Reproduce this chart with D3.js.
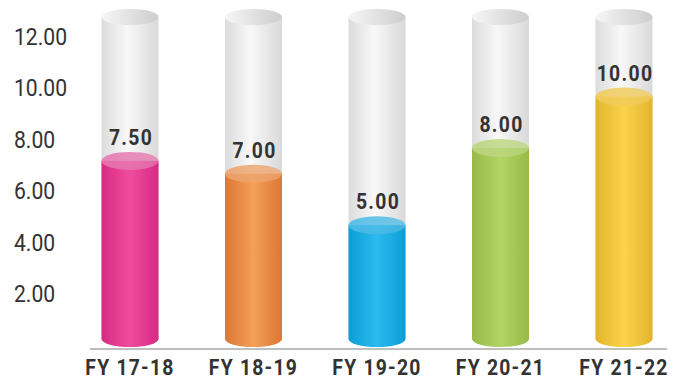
<!DOCTYPE html>
<html>
<head>
<meta charset="utf-8">
<script src="https://cdn.jsdelivr.net/npm/d3@7"></script>
<style>
  body { margin: 0; background: #fff; }
  svg { display: block; }
  .ylab { font-family: Roboto, "Liberation Sans", sans-serif; font-size: 24px; fill: #333; }
  .vlab { font-family: Roboto, "Liberation Sans", sans-serif; font-size: 22px; font-weight: bold; fill: #333; letter-spacing: 1.5px; }
  .xlab { font-family: Roboto, "Liberation Sans", sans-serif; font-size: 22px; font-weight: bold; fill: #333; letter-spacing: 1.4px; }
</style>
</head>
<body>
<svg width="679" height="380"></svg>
<script>
// donnees
var categories = ["FY 17-18", "FY 18-19", "FY 19-20", "FY 20-21", "FY 21-22"];
var values = [7.5, 7.0, 5.0, 8.0, 10.0];
var yTicks = [2, 4, 6, 8, 10, 12];
// couleurs : bord, centre, dessus
var darkCols = ["#d72a84", "#db7835", "#0a9dd5", "#97b948", "#e1b42d"];
var lightCols = ["#f04c9d", "#f59f58", "#2cbbef", "#b2d563", "#fdd34c"];
var topCols = ["#e678b0", "#eda56e", "#4dbbe6", "#bcd680", "#f0cc5c"];

var svg = d3.select("svg");
var defs = svg.append("defs");

var barW = 57;
var rx = barW / 2;
var ry = 8;
var tubeTop = 17;   // centre ellipse du haut du tube
var tubeBottom = 339; // centre ellipse du bas
var narrow = 0.88;  // police condensee

var x = d3.scalePoint().domain(categories).range([130, 624]);
var y = d3.scaleLinear().domain([0, 12]).range([345, 36]);

// degrades
function hGrad(id, stops) {
  var g = defs.append("linearGradient").attr("id", id)
    .attr("x1", "0%").attr("x2", "100%").attr("y1", "0%").attr("y2", "0%");
  stops.forEach(function(s) {
    g.append("stop").attr("offset", s[0]).attr("stop-color", s[1]).attr("stop-opacity", s[2] == null ? 1 : s[2]);
  });
}
hGrad("tubeBody", [["0%", "#dcdcdc"], ["45%", "#f8f8f8"], ["100%", "#d9d9d9"]]);
hGrad("tubeTop", [["0%", "#f6f6f6"], ["100%", "#cdcdcd"]]);
values.forEach(function(v, i) {
  hGrad("fill" + i, [["0%", darkCols[i]], ["50%", lightCols[i]], ["100%", darkCols[i]]]);
  hGrad("top" + i, [["0%", topCols[i], 0.9], ["100%", topCols[i], 0.75]]);
});

// ligne de base
svg.append("line")
  .attr("x1", 90).attr("x2", 667)
  .attr("y1", 349).attr("y2", 349)
  .style("stroke", "#a8a8a8")
  .style("stroke-width", 1.5);

// axe y (labels seulement)
svg.selectAll("text.ylab")
  .data(yTicks)
  .enter()
  .append("text")
  .attr("class", "ylab")
  .attr("transform", function(d) { return "translate(14," + y(d) + ") scale(" + narrow + ",1)"; })
  .attr("dy", "0.36em")
  .text(function(d) { return d3.format(".2f")(d); });

var cyl = svg.selectAll("g.cyl")
  .data(values)
  .enter()
  .append("g")
  .attr("class", "cyl")
  .attr("transform", function(d, i) { return "translate(" + x(categories[i]) + ",0)"; });

// tube en verre
cyl.append("rect")
  .attr("x", -rx).attr("width", barW)
  .attr("y", tubeTop).attr("height", tubeBottom - tubeTop)
  .style("fill", "url(#tubeBody)");
cyl.append("ellipse")
  .attr("cx", 0).attr("cy", tubeTop)
  .attr("rx", rx).attr("ry", ry)
  .style("fill", "url(#tubeTop)");

// remplissage
cyl.append("ellipse")
  .attr("cx", 0).attr("cy", tubeBottom)
  .attr("rx", rx).attr("ry", ry)
  .style("fill", function(d, i) { return "url(#fill" + i + ")"; });
cyl.append("rect")
  .attr("x", -rx).attr("width", barW)
  .attr("y", function(d) { return y(d) + ry + 1; })
  .attr("height", function(d) { return tubeBottom - y(d) - ry - 1; })
  .style("fill", function(d, i) { return "url(#fill" + i + ")"; });
cyl.append("ellipse")
  .attr("cx", 0)
  .attr("cy", function(d) { return y(d) + ry + 1; })
  .attr("rx", rx).attr("ry", ry + 1)
  .style("fill", function(d, i) { return "url(#top" + i + ")"; });

// valeurs
cyl.append("text")
  .attr("class", "vlab")
  .attr("text-anchor", "middle")
  .attr("transform", function(d) { return "translate(1," + (y(d) - 7) + ") scale(" + narrow + ",1)"; })
  .text(function(d) { return d3.format(".2f")(d); });

// categories
svg.selectAll("text.xlab")
  .data(categories)
  .enter()
  .append("text")
  .attr("class", "xlab")
  .attr("text-anchor", "middle")
  .attr("transform", function(d) { return "translate(" + x(d) + ",375) scale(" + narrow + ",1)"; })
  .text(function(d) { return d; });
</script>
</body>
</html>
